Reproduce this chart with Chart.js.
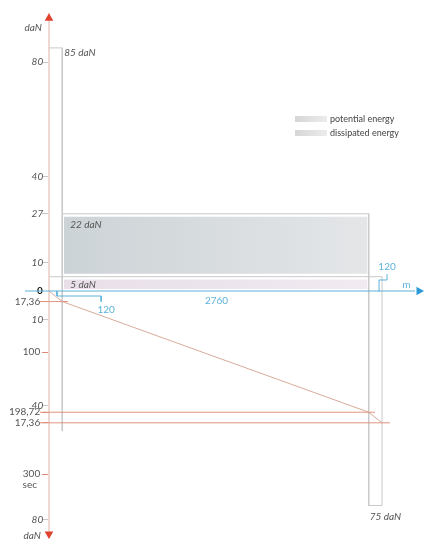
<!DOCTYPE html>
<html>
<head>
<meta charset="utf-8">
<script src="https://cdn.jsdelivr.net/npm/chart.js@4.4.1/dist/chart.umd.min.js"></script>
<style>
  html, body { margin: 0; background: #fff; }
</style>
</head>
<body>
<canvas id="chart" width="432" height="550"></canvas>
<script>
// --- data ---
// vertical axis, upper half: traction force (daN)
const forceTicks = [10, 27, 40, 80];
// vertical axis, lower half: braking force (daN) and time (sec)
const brakeTicks = [10, 40, 80];
const timeTicks = [17.36, 100, 198.72, 216.08, 300];
const timeTickLabels = ['17,36', '100', '198,72', '17,36', '300'];

// track phases (m): start, end of acceleration, start of braking, stop
const phaseDist = [0, 120, 2880, 3000];
const phaseLabels = ['120', '2760', '120'];
// forces per phase (daN)
const startForce = 85;
const runForces = [5, 22];        // dissipated, potential
const brakeForce = 75;
// travel curve: time (sec) at each phase boundary
const runTime = [0, 17.36, 198.72, 216.08];

const legendLabels = ['potential energy', 'dissipated energy'];

// --- drawing scale ---
const SEC = 0.2133;               // one second, in daN units of the vertical axis
const PAD = 14;
const X_MIN = -315, X_MAX = 3324;
const Y_MIN = -85.66, Y_MAX = 96.85;

const grey = '#c9c9c9';
const blue = '#5cb2da';
const red = '#e2412e';
const redLine = '#e0937f';
const textGrey = '#555';

const toTime = t => -t * SEC;
const [d0, d1, d2, d3] = phaseDist;
const [dissipated, potential] = runForces;
const runTop = dissipated + potential;
const inset = 1;

const yTicks = [
  ...forceTicks.map(v => ({ value: v, label: String(v), kind: 'force' })),
  { value: 0, label: '0', kind: 'zero' },
  ...brakeTicks.map(v => ({ value: -v, label: String(v), kind: 'force' })),
  ...timeTicks.map((t, i) => ({ value: toTime(t), label: timeTickLabels[i], kind: 'time' })),
].sort((a, b) => a.value - b.value);

// labels sit right-aligned on the axis line, so pad them away from it
const gap = { force: '\u2002\u2009', zero: '\u2002\u2009', time: '\u2003\u2009' };

const line = (data, color, extra = {}) => ({
  data, borderColor: color, borderWidth: 1, pointRadius: 0,
  fill: false, tension: 0, clip: false, order: 1, ...extra
});

const gradient = (c, from, to) => {
  const { chart } = c;
  if (!chart.chartArea) return from;
  const sx = chart.scales.x;
  const g = chart.ctx.createLinearGradient(sx.getPixelForValue(d1), 0, sx.getPixelForValue(d2), 0);
  g.addColorStop(0, from);
  g.addColorStop(1, to);
  return g;
};

const datasets = [
  // arrows
  line([{ x: d0, y: 95.4 }], red, { pointRadius: 5, pointStyle: 'triangle', backgroundColor: red, borderWidth: 0 }),
  line([{ x: d0, y: -85 }], red, { pointRadius: 5, pointStyle: 'triangle', rotation: 180, backgroundColor: red, borderWidth: 0 }),
  line([{ x: 3333, y: 0 }], '#2e9ad6', { pointRadius: 5, pointStyle: 'triangle', rotation: 90, backgroundColor: '#2e9ad6', borderWidth: 0 }),
  // distance axis and leaders
  line([{ x: -216, y: 0 }, { x: 3297, y: 0 }], blue, { borderWidth: 1.2 }),
  line([{ x: 72, y: 0 }, { x: 72, y: -1.75 }, { x: 470, y: -1.75 }, { x: 470, y: -3.7 }], blue),
  line([{ x: 2973, y: -0.3 }, { x: 2973, y: 3.85 }, { x: 3045, y: 3.85 }, { x: 3045, y: 5.9 }], blue),
  // time lines
  line([{ x: -81, y: toTime(timeTicks[0]) }, { x: 171, y: toTime(timeTicks[0]) }], redLine),
  line([{ x: -81, y: toTime(timeTicks[2]) }, { x: 2937, y: toTime(timeTicks[2]) }], redLine),
  line([{ x: -81, y: toTime(timeTicks[3]) }, { x: 3072, y: toTime(timeTicks[3]) }], redLine),
  // travel curve
  line(phaseDist.map((d, i) => ({ x: d, y: toTime(runTime[i]) })), '#d9a99b'),
  // outlines
  line([{ x: d0, y: startForce }, { x: d1, y: startForce }, { x: d1, y: -49 }], grey),
  line([{ x: d0, y: dissipated }, { x: d3, y: dissipated }], grey),
  line([{ x: d1, y: runTop }, { x: d2, y: runTop }, { x: d2, y: -brakeForce }, { x: d3, y: -brakeForce }, { x: d3, y: dissipated }], grey),
  // energy fills
  line([{ x: d1 + 15, y: runTop - inset }, { x: d2 - 10, y: runTop - inset }], 'transparent', {
    label: legendLabels[0], borderWidth: 0, order: 2,
    fill: { value: dissipated + inset },
    backgroundColor: c => gradient(c, '#ccd3d6', '#e4e6e8'),
  }),
  line([{ x: d1 + 15, y: dissipated - inset }, { x: d2 - 10, y: dissipated - inset }], 'transparent', {
    label: legendLabels[1], borderWidth: 0, order: 2,
    fill: { value: 0.7 },
    backgroundColor: c => gradient(c, '#e8dfe8', '#f1eaf1'),
  }),
];

const tickFont = t => ({
  family: 'Lato',
  size: 10,
  style: t.kind === 'force' ? 'italic' : 'normal',
  weight: t.kind === 'zero' ? 'bold' : 'normal',
});

const notes = {
  id: 'notes',
  afterDraw(chart) {
    const { ctx, scales: { x, y } } = chart;
    const px = v => x.getPixelForValue(v);
    const py = v => y.getPixelForValue(v);
    const put = (str, tx, ty, color, align = 'left', style = 'italic') => {
      ctx.font = style + ' 10px Lato';
      ctx.fillStyle = color;
      ctx.textAlign = align;
      ctx.textBaseline = 'middle';
      ctx.fillText(str, tx, ty);
    };
    ctx.save();
    put(startForce + ' daN', px(d1) + 2, py(startForce) + 5, textGrey);
    put(potential + ' daN', px(d1) + 8, py(runTop) + 11, textGrey);
    put(dissipated + ' daN', px(d1) + 8, py(dissipated / 2) + 1, textGrey);
    put(brakeForce + ' daN', px(d2) + 1, py(-brakeForce) + 11, textGrey);
    put(phaseLabels[1], px((d1 + d2) / 2) + 1, py(0) + 10, blue, 'center', 'normal');
    put(phaseLabels[0], px(470) + 5, py(0) + 19, blue, 'center', 'normal');
    put(phaseLabels[2], px(3045), py(0) - 24, blue, 'center', 'normal');
    put('m', px(3220), py(0) - 6, blue, 'center', 'normal');
    put('daN', px(0) - 7, 28, textGrey, 'right');
    put('daN', px(0) - 8, 536, textGrey, 'right');
    put('sec', px(0) - 12, py(toTime(300)) + 11, textGrey, 'right', 'normal');

    // legend
    chart.data.datasets.filter(d => d.label).forEach((d, i) => {
      const top = 116 + i * 14;
      const g = ctx.createLinearGradient(295, 0, 327, 0);
      g.addColorStop(0, '#d6d6d8');
      g.addColorStop(1, '#ececec');
      ctx.fillStyle = g;
      ctx.fillRect(295, top, 32, 6);
      ctx.font = '9px Lato';
      ctx.fillStyle = '#444';
      ctx.textAlign = 'left';
      ctx.textBaseline = 'middle';
      ctx.fillText(d.label, 330, top + 3);
    });
    ctx.restore();
  }
};

new Chart(document.getElementById('chart'), {
  type: 'line',
  data: { datasets },
  plugins: [notes],
  options: {
    responsive: false,
    animation: false,
    devicePixelRatio: 1,
    layout: { padding: PAD },
    plugins: { legend: { display: false }, tooltip: { enabled: false } },
    scales: {
      x: { type: 'linear', min: X_MIN, max: X_MAX, display: false },
      y: {
        type: 'linear',
        min: Y_MIN,
        max: Y_MAX,
        position: { x: 0 },
        border: { color: '#efd8d2', width: 2 },
        grid: {
          drawOnChartArea: false,
          tickLength: 6,
          color: c => {
            const t = yTicks[c.index];
            if (!t || t.kind === 'zero') return 'transparent';
            return t.kind === 'time' ? '#dc8a78' : '#cfc6c4';
          },
        },
        afterBuildTicks: axis => { axis.ticks = yTicks.map(t => ({ value: t.value })); },
        ticks: {
          autoSkip: false,
          callback: (v, i) => yTicks[i].label + gap[yTicks[i].kind],
          font: c => tickFont(yTicks[c.index] || { kind: 'time' }),
          color: c => (yTicks[c.index] && yTicks[c.index].kind === 'zero') ? '#111' : textGrey,
        },
      },
    },
  },
});
</script>
</body>
</html>
